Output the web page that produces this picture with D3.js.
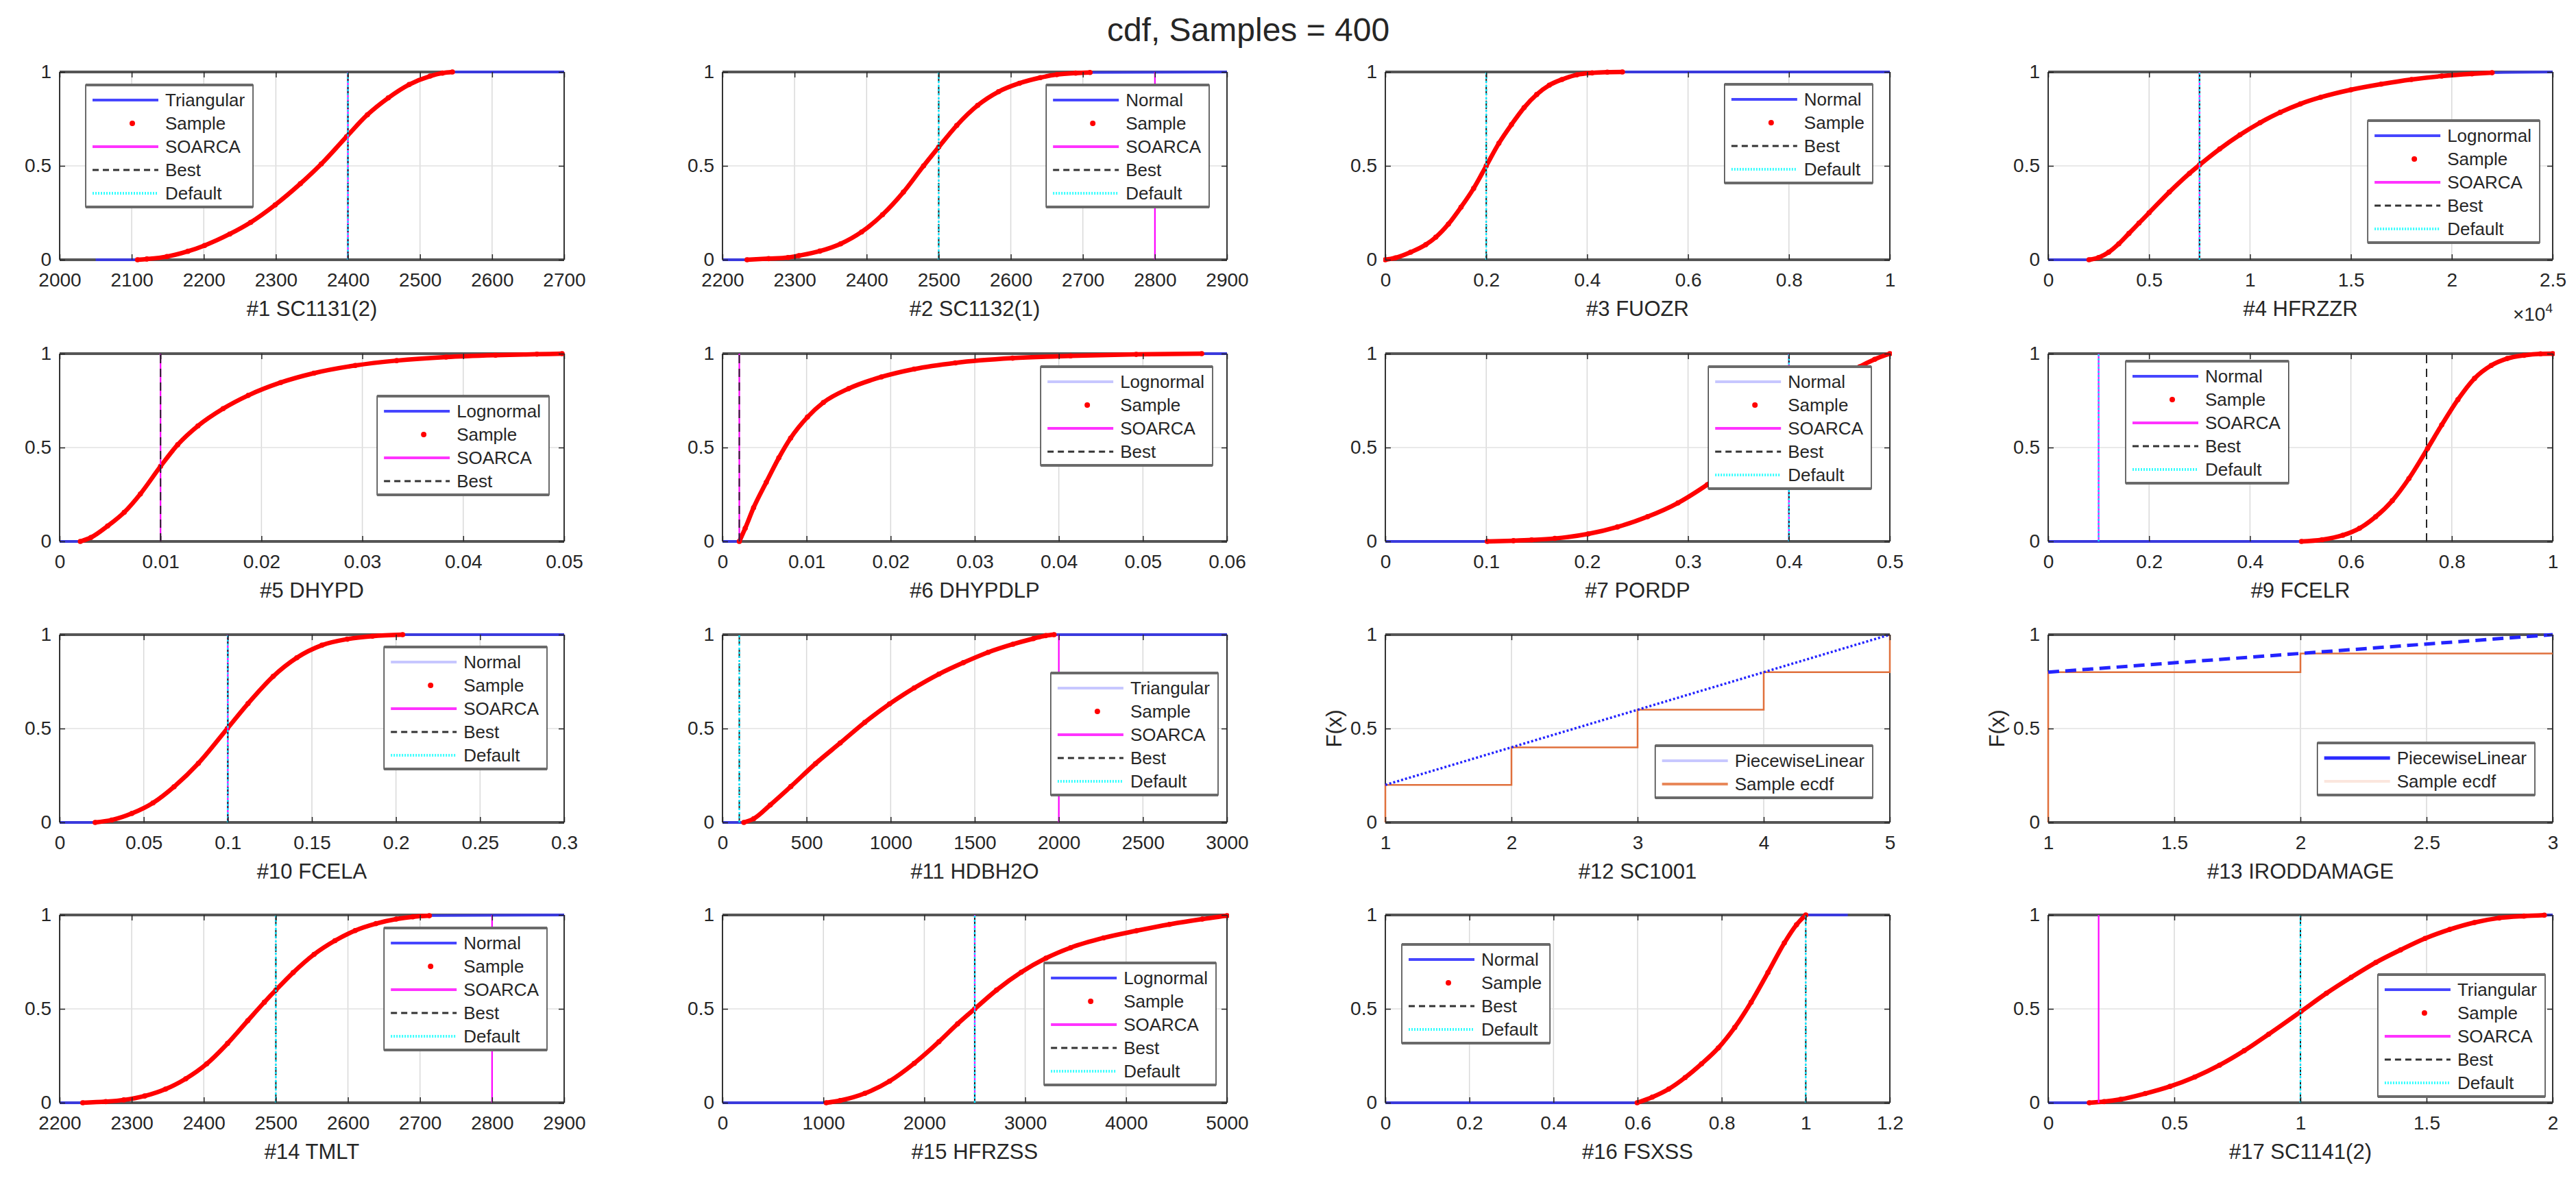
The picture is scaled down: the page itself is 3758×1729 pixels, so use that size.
<!DOCTYPE html>
<html>
<head>
<meta charset="utf-8">
<script src="https://cdn.jsdelivr.net/npm/d3@7"></script>
<style>
body { margin: 0; background: #fff; }
text { font-family: "Liberation Sans", Arial, sans-serif; fill: #262626; }
</style>
</head>
<body>
<script>
// ---- data ----
var figTitle = "cdf, Samples = 400";

var panelTitles = ["#1 SC1131(2)", "#2 SC1132(1)", "#3 FUOZR", "#4 HFRZZR",
    "#5 DHYPD", "#6 DHYPDLP", "#7 PORDP", "#9 FCELR",
    "#10 FCELA", "#11 HDBH2O", "#12 SC1001", "#13 IRODDAMAGE",
    "#14 TMLT", "#15 HFRZSS", "#16 FSXSS", "#17 SC1141(2)"];

var xDomains = [[2000, 2700], [2200, 2900], [0, 1], [0, 25000],
    [0, 0.05], [0, 0.06], [0, 0.5], [0, 1],
    [0, 0.3], [0, 3000], [1, 5], [1, 3],
    [2200, 2900], [0, 5000], [0, 1.2], [0, 2]];

var xTickLabels = [
    ["2000", "2100", "2200", "2300", "2400", "2500", "2600", "2700"],
    ["2200", "2300", "2400", "2500", "2600", "2700", "2800", "2900"],
    ["0", "0.2", "0.4", "0.6", "0.8", "1"],
    ["0", "0.5", "1", "1.5", "2", "2.5"],
    ["0", "0.01", "0.02", "0.03", "0.04", "0.05"],
    ["0", "0.01", "0.02", "0.03", "0.04", "0.05", "0.06"],
    ["0", "0.1", "0.2", "0.3", "0.4", "0.5"],
    ["0", "0.2", "0.4", "0.6", "0.8", "1"],
    ["0", "0.05", "0.1", "0.15", "0.2", "0.25", "0.3"],
    ["0", "500", "1000", "1500", "2000", "2500", "3000"],
    ["1", "2", "3", "4", "5"],
    ["1", "1.5", "2", "2.5", "3"],
    ["2200", "2300", "2400", "2500", "2600", "2700", "2800", "2900"],
    ["0", "1000", "2000", "3000", "4000", "5000"],
    ["0", "0.2", "0.4", "0.6", "0.8", "1", "1.2"],
    ["0", "0.5", "1", "1.5", "2"]];
var xTickScale = [1, 1, 1, 1e4, 1, 1, 1, 1, 1, 1, 1, 1, 1, 1, 1, 1];
var yTickLabels = ["0", "0.5", "1"];

var fitNames = ["Triangular", "Normal", "Normal", "Lognormal",
    "Lognormal", "Lognormal", "Normal", "Normal",
    "Normal", "Triangular", null, null,
    "Normal", "Lognormal", "Normal", "Triangular"];
var fitRanges = [[2050, 2700], [2200, 2900], [0, 1], [0, 25000],
    [0, 0.05], [0, 0.06], [0, 0.5], [0, 1],
    [0, 0.3], [0, 3000], null, null,
    [2200, 2900], [0, 5000], [0, 1.1], [0, 2]];

var soarcaX  = [2400, 2800, null, 7500, 0.01, 0.002, 0.4, 0.1, 0.1, 2000, null, null, 2800, 2500, null, 0.2];
var bestX    = [2400, 2500, 0.2, 7500, 0.01, 0.002, 0.4, 0.75, 0.1, 100, null, null, 2500, 2500, 1.0, 1.0];
var defaultX = [2400, 2500, 0.2, 7500, null, null, 0.4, 0.1, 0.1, 100, null, null, 2500, 2500, 1.0, 1.0];

// sample cdf [x, F]
var samp1 = [[2108, 0], [2121, 0.004], [2149, 0.017], [2178, 0.045], [2201, 0.076], [2236, 0.137], [2265, 0.199],
    [2299, 0.292], [2334, 0.405], [2363, 0.51], [2398, 0.655], [2427, 0.772], [2456, 0.862], [2485, 0.933],
    [2514, 0.978], [2531, 0.994], [2545, 1]];
var samp2 = [[2234, 0], [2264, 0.006], [2291, 0.012], [2306, 0.022], [2335, 0.046], [2364, 0.085], [2393, 0.148],
    [2422, 0.24], [2451, 0.36], [2479, 0.5], [2500, 0.6], [2525, 0.715], [2554, 0.822], [2583, 0.895],
    [2612, 0.94], [2641, 0.97], [2664, 0.986], [2690, 0.994], [2710, 0.997]];
var samp3 = [[0, 0], [0.02, 0.01], [0.05, 0.04], [0.08, 0.08], [0.1, 0.12], [0.125, 0.19], [0.15, 0.28],
    [0.175, 0.38], [0.2, 0.5], [0.225, 0.62], [0.25, 0.72], [0.275, 0.81], [0.3, 0.88], [0.325, 0.93],
    [0.35, 0.96], [0.38, 0.985], [0.41, 0.995], [0.44, 0.999], [0.47, 1]];
var samp4 = [[2020, 0], [2500, 0.012], [3000, 0.04], [3500, 0.085], [4000, 0.14], [4500, 0.195], [5000, 0.25],
    [6000, 0.36], [7000, 0.46], [7500, 0.505], [8500, 0.59], [9500, 0.665], [10500, 0.73], [11500, 0.785],
    [12500, 0.83], [13500, 0.865], [15000, 0.905], [16500, 0.935], [18000, 0.96], [19500, 0.978],
    [21000, 0.99], [22000, 0.996]];
var samp5 = [[0.00205, 0], [0.0031, 0.021], [0.00475, 0.082], [0.0064, 0.155], [0.008, 0.253], [0.01, 0.4],
    [0.0117, 0.515], [0.0137, 0.615], [0.0162, 0.707], [0.0187, 0.778], [0.0219, 0.846], [0.0252, 0.896],
    [0.0293, 0.937], [0.0334, 0.963], [0.0383, 0.982], [0.0432, 0.992], [0.0473, 0.997], [0.0498, 1]];
var samp6 = [[0.002, 0], [0.0027, 0.07], [0.0037, 0.18], [0.0052, 0.315], [0.0067, 0.445], [0.0081, 0.55],
    [0.0101, 0.662], [0.012, 0.74], [0.015, 0.814], [0.0189, 0.876], [0.0228, 0.918], [0.0277, 0.951],
    [0.0345, 0.976], [0.0414, 0.988], [0.0492, 0.996], [0.057, 1]];
var samp7 = [[0.101, 0], [0.127, 0.004], [0.145, 0.008], [0.168, 0.016], [0.201, 0.04], [0.23, 0.077],
    [0.26, 0.132], [0.29, 0.205], [0.319, 0.302], [0.349, 0.418], [0.38, 0.55], [0.41, 0.68], [0.44, 0.81],
    [0.47, 0.93], [0.485, 0.97], [0.5, 1]];
var samp9 = [[0.502, 0], [0.543, 0.009], [0.584, 0.033], [0.617, 0.07], [0.649, 0.131], [0.682, 0.217],
    [0.715, 0.335], [0.752, 0.495], [0.78, 0.62], [0.812, 0.755], [0.845, 0.868], [0.878, 0.937],
    [0.91, 0.974], [0.943, 0.991], [0.976, 0.999], [1, 1]];
var samp10 = [[0.0211, 0], [0.031, 0.013], [0.043, 0.048], [0.0555, 0.104], [0.068, 0.19], [0.0825, 0.315],
    [0.0997, 0.5], [0.112, 0.633], [0.127, 0.778], [0.141, 0.877], [0.156, 0.944], [0.171, 0.976],
    [0.186, 0.992], [0.204, 1]];
var samp11 = [[127, 0], [186, 0.02], [284, 0.093], [406, 0.191], [553, 0.313], [700, 0.423], [846, 0.533],
    [993, 0.631], [1140, 0.716], [1287, 0.79], [1433, 0.851], [1580, 0.906], [1727, 0.949], [1849, 0.979],
    [1923, 0.995], [1972, 1]];
var samp14 = [[2232, 0], [2264, 0.006], [2289, 0.015], [2318, 0.036], [2347, 0.073], [2375, 0.128], [2404, 0.207],
    [2433, 0.316], [2461, 0.437], [2484, 0.535], [2500, 0.6], [2524, 0.693], [2553, 0.79], [2582, 0.863],
    [2610, 0.917], [2639, 0.954], [2667, 0.978], [2690, 0.99], [2713, 0.996]];
var samp15 = [[1028, 0], [1166, 0.012], [1411, 0.05], [1656, 0.115], [1900, 0.21], [2145, 0.325], [2330, 0.42],
    [2500, 0.5], [2716, 0.6], [2961, 0.695], [3206, 0.77], [3450, 0.826], [3777, 0.878], [4103, 0.916],
    [4429, 0.95], [4755, 0.978], [5000, 0.996]];
var samp16 = [[0.599, 0], [0.635, 0.03], [0.674, 0.073], [0.713, 0.134], [0.752, 0.207], [0.792, 0.292],
    [0.831, 0.401], [0.87, 0.535], [0.91, 0.693], [0.949, 0.851], [0.978, 0.948], [1, 1]];
var samp17 = [[0.163, 0], [0.222, 0.006], [0.287, 0.018], [0.385, 0.049], [0.483, 0.087], [0.581, 0.137],
    [0.679, 0.2], [0.777, 0.277], [0.874, 0.365], [1.002, 0.486], [1.103, 0.583], [1.201, 0.668],
    [1.299, 0.747], [1.397, 0.814], [1.494, 0.875], [1.592, 0.923], [1.69, 0.96], [1.788, 0.984],
    [1.886, 0.994], [1.967, 0.999]];
var samples = [samp1, samp2, samp3, samp4, samp5, samp6, samp7, samp9, samp10, samp11, null, null,
    samp14, samp15, samp16, samp17];

// piecewise-linear panels: fitted line and sample ecdf steps
var pwLine12 = [[1, 0.2], [5, 1]];
var ecdf12 = [[1, 0], [1, 0.2], [2, 0.4], [3, 0.6], [4, 0.8], [5, 1]];
var pwLine13 = [[1, 0.8], [2, 0.9], [3, 1]];
var ecdf13 = [[1, 0], [1, 0.8], [2, 0.9], [3, 0.9]];
var piecewise = { 10: { line: pwLine12, ecdf: ecdf12, lineKind: "pwDot", keys: ["pwFaint", "ecdf"] },
                  11: { line: pwLine13, ecdf: ecdf13, lineKind: "pwDash", keys: ["pwSolid", "ecdfFaint"] } };

// ---- layout ----
var W = 3758, H = 1729;
var colX = [87, 1054, 2021, 2988], rowY = [105, 516, 926, 1335];
var PW = 736, PH = 274;
// legend box: left or right offset (from axes edge) and top offset
var legendSpots = [{ left: 38, top: 19 }, { right: 26, top: 19 }, { right: 25, top: 18 }, { right: 19, top: 71 },
    { right: 22, top: 62 }, { right: 21, top: 19 }, { right: 27, top: 19 }, { left: 113, top: 11 },
    { right: 25, top: 18 }, { right: 13, top: 56 }, { right: 25, top: 162 }, { right: 26, top: 158 },
    { right: 25, top: 19 }, { right: 16, top: 70 }, { left: 24, top: 43 }, { right: 11, top: 87 }];
var faintFitKey = [5, 6, 8, 9];

var svg = d3.select("body").append("svg")
    .attr("width", W)
    .attr("height", H);

svg.append("text")
    .attr("x", 1821)
    .attr("y", 60)
    .attr("text-anchor", "middle")
    .style("font-size", "48px")
    .text(figTitle);

function styleAxis(sel, size) {
    sel.select(".domain").remove();
    sel.selectAll(".tick line").attr("stroke", "#262626").attr("stroke-width", 1.5);
    sel.selectAll(".tick text").style("font-size", size + "px")
        .style("font-family", "'Liberation Sans', Arial, sans-serif").attr("fill", "#262626");
}

function drawKey(lg, kind, x0, x1, cy) {
    if (kind === "sample") {
        lg.append("circle").attr("cx", (x0 + x1) / 2 + 10).attr("cy", cy).attr("r", 4).attr("fill", "#ff0000");
        return;
    }
    var st = {
        fit: ["#4646ff", 4, null, 1],
        fitFaint: ["#4646ff", 4, null, 0.3],
        soarca: ["#ff33ff", 4, null, 1],
        best: ["#333333", 3, "9,6", 1],
        "default": ["#33ffff", 4, "2,2", 1],
        pwFaint: ["#c8c8ff", 4, null, 1],
        pwSolid: ["#2a2aff", 5, null, 1],
        ecdf: ["#e8885a", 4, null, 1],
        ecdfFaint: ["#fbe6dd", 4, null, 1]
    }[kind];
    lg.append("line").attr("x1", x0).attr("x2", x1).attr("y1", cy).attr("y2", cy)
        .attr("stroke", st[0]).attr("stroke-width", st[1]).attr("stroke-dasharray", st[2])
        .attr("stroke-opacity", st[3]);
}

panelTitles.forEach(function (name, i) {
    var g = svg.append("g")
        .attr("transform", "translate(" + colX[i % 4] + "," + rowY[Math.floor(i / 4)] + ")");

    var x = d3.scaleLinear().domain(xDomains[i]).range([0, PW]);
    var y = d3.scaleLinear().domain([0, 1]).range([PH, 0]);
    var tickVals = xTickLabels[i].map(function (s) { return +s * xTickScale[i]; });
    var yVals = yTickLabels.map(Number);

    // grid
    g.append("g").selectAll("line")
        .data(tickVals.slice(1, -1))
        .enter().append("line")
        .attr("x1", function (d) { return x(d); })
        .attr("x2", function (d) { return x(d); })
        .attr("y1", 0).attr("y2", PH)
        .attr("stroke", "#d9d9d9").attr("stroke-width", 1.5);
    g.append("line")
        .attr("x1", 0).attr("x2", PW).attr("y1", y(0.5)).attr("y2", y(0.5))
        .attr("stroke", "#e2e2e2").attr("stroke-width", 1.5);

    // axes box (under the data, as in the figure)
    g.append("line").attr("x1", 0).attr("x2", PW).attr("y1", 0).attr("y2", 0)
        .attr("stroke", "#555").attr("stroke-width", 4);
    g.append("line").attr("x1", 0).attr("x2", PW).attr("y1", PH).attr("y2", PH)
        .attr("stroke", "#555").attr("stroke-width", 4);
    g.append("line").attr("x1", 0).attr("x2", 0).attr("y1", 0).attr("y2", PH)
        .attr("stroke", "#333").attr("stroke-width", 2);
    g.append("line").attr("x1", PW).attr("x2", PW).attr("y1", 0).attr("y2", PH)
        .attr("stroke", "#333").attr("stroke-width", 2);

    g.append("clipPath").attr("id", "clip" + i)
        .append("rect").attr("x", -3).attr("y", -4).attr("width", PW + 6).attr("height", PH + 8);
    var plot = g.append("g").attr("clip-path", "url(#clip" + i + ")");

    var line = d3.line()
        .x(function (d) { return x(d[0]); })
        .y(function (d) { return y(d[1]); });

    var keys = [];

    if (piecewise[i]) {
        var pc = piecewise[i];
        plot.append("path").datum(pc.ecdf)
            .attr("d", line.curve(d3.curveStepAfter))
            .attr("fill", "none").attr("stroke", "#e0703c").attr("stroke-width", 2.5);
        plot.append("path").datum(pc.line)
            .attr("d", line.curve(d3.curveLinear))
            .attr("fill", "none").attr("stroke", "#2424ff")
            .attr("stroke-width", pc.lineKind === "pwDot" ? 3.5 : 5)
            .attr("stroke-dasharray", pc.lineKind === "pwDot" ? "3,3" : "16,9");
        keys = [{ label: "PiecewiseLinear", kind: pc.keys[0] }, { label: "Sample ecdf", kind: pc.keys[1] }];

        g.append("text")
            .attr("transform", "translate(-75," + (PH / 2) + ") rotate(-90)")
            .attr("text-anchor", "middle").attr("dy", "0.35em")
            .style("font-size", "31px")
            .text("F(x)");
    } else {
        var s = samples[i];
        var fr = fitRanges[i];
        var fitPts = s.slice();
        if (fr[0] < s[0][0]) fitPts.unshift([fr[0], 0]);
        if (fr[1] > s[s.length - 1][0]) fitPts.push([fr[1], 1]);

        plot.append("path").datum(fitPts)
            .attr("d", line.curve(d3.curveMonotoneX))
            .attr("fill", "none").attr("stroke", "#3333ff").attr("stroke-opacity", 0.8)
            .attr("stroke-width", 4);

        plot.append("path").datum(s)
            .attr("d", line.curve(d3.curveMonotoneX))
            .attr("fill", "none").attr("stroke", "#ff0000").attr("stroke-width", 6.5);
        plot.append("g").selectAll("circle")
            .data(s)
            .enter().append("circle")
            .attr("cx", function (d) { return x(d[0]); })
            .attr("cy", function (d) { return y(d[1]); })
            .attr("r", 3.8)
            .attr("fill", "#ff0000");

        var vlines = [
            { v: soarcaX[i], stroke: "#ff00ff", w: 2.2, dash: null },
            { v: bestX[i], stroke: "#262626", w: 2, dash: "12,8" },
            { v: defaultX[i], stroke: "#00e5ff", w: 2.4, dash: "3,3" }
        ];
        vlines.forEach(function (vl) {
            if (vl.v === null) return;
            plot.append("line")
                .attr("x1", x(vl.v)).attr("x2", x(vl.v))
                .attr("y1", y(0)).attr("y2", y(1))
                .attr("stroke", vl.stroke).attr("stroke-width", vl.w)
                .attr("stroke-dasharray", vl.dash);
        });

        keys.push({ label: fitNames[i], kind: faintFitKey.indexOf(i) >= 0 ? "fitFaint" : "fit" });
        keys.push({ label: "Sample", kind: "sample" });
        if (soarcaX[i] !== null) keys.push({ label: "SOARCA", kind: "soarca" });
        if (bestX[i] !== null) keys.push({ label: "Best", kind: "best" });
        if (defaultX[i] !== null) keys.push({ label: "Default", kind: "default" });
    }

    // axes
    var xAxis = d3.axisBottom(x).tickValues(tickVals)
        .tickFormat(function (d, k) { return xTickLabels[i][k]; })
        .tickSizeInner(-8).tickSizeOuter(0).tickPadding(19);
    g.append("g").attr("transform", "translate(0," + PH + ")").call(xAxis).call(styleAxis, 28);

    var xTop = d3.axisTop(x).tickValues(tickVals).tickFormat("").tickSizeInner(-8).tickSizeOuter(0);
    g.append("g").call(xTop).call(styleAxis, 28);

    var yAxis = d3.axisLeft(y).tickValues(yVals)
        .tickFormat(function (d, k) { return yTickLabels[k]; })
        .tickSizeInner(-8).tickSizeOuter(0).tickPadding(12);
    g.append("g").call(yAxis).call(styleAxis, 28);

    var yRight = d3.axisRight(y).tickValues(yVals).tickFormat("").tickSizeInner(-8).tickSizeOuter(0);
    g.append("g").attr("transform", "translate(" + PW + ",0)").call(yRight).call(styleAxis, 28);

    g.append("text")
        .attr("x", PW / 2).attr("y", PH + 82)
        .attr("text-anchor", "middle")
        .style("font-size", "31px")
        .text(name);

    if (xTickScale[i] !== 1) {
        var ex = g.append("text")
            .attr("x", PW).attr("y", PH + 89)
            .attr("text-anchor", "end")
            .style("font-size", "28px");
        ex.append("tspan").text("\u00d710");
        ex.append("tspan").attr("dy", -12).style("font-size", "19px")
            .text(String(Math.round(Math.log10(xTickScale[i]))));
    }

    // legend
    var spot = legendSpots[i];
    var lg = g.append("g");
    var texts = lg.selectAll("text.key")
        .data(keys)
        .enter().append("text")
        .attr("class", "key")
        .style("font-size", "26px")
        .attr("dy", "0.35em")
        .text(function (d) { return d.label; });
    var maxW = 0;
    texts.each(function () { maxW = Math.max(maxW, this.getComputedTextLength()); });
    var bw = 116 + maxW + 12;
    var bh = 42 + 34 * (keys.length - 1);
    var bx = spot.left !== undefined ? spot.left : PW - spot.right - bw;
    var by = spot.top;

    lg.insert("rect", "text")
        .attr("x", bx).attr("y", by).attr("width", bw).attr("height", bh)
        .attr("fill", "#fff").attr("stroke", "#3a3a3a").attr("stroke-width", 1.5);
    lg.append("line").attr("x1", bx).attr("x2", bx + bw).attr("y1", by).attr("y2", by)
        .attr("stroke", "#6a6a6a").attr("stroke-width", 4);
    lg.append("line").attr("x1", bx).attr("x2", bx + bw).attr("y1", by + bh).attr("y2", by + bh)
        .attr("stroke", "#6a6a6a").attr("stroke-width", 4);

    texts.attr("x", bx + 116)
        .attr("y", function (d, k) { return by + 22 + 34 * k; });
    keys.forEach(function (k, j) {
        drawKey(lg, k.kind, bx + 10, bx + 106, by + 22 + 34 * j);
    });
});
</script>
</body>
</html>
